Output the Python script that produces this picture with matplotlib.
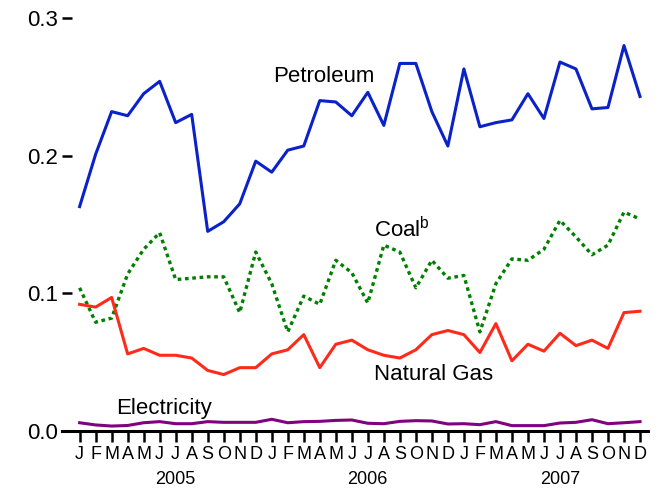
import numpy as np
import matplotlib
matplotlib.use("Agg")
import matplotlib.pyplot as plt

plt.rcParams['font.family'] = ['Liberation Sans', 'DejaVu Sans']
plt.rcParams['mathtext.fontset'] = 'custom'
plt.rcParams['mathtext.rm'] = 'Liberation Sans'

# monthly values, Jan 2005 .. Dec 2007
months = list("JFMAMJJASOND") * 3
years = ["2005", "2006", "2007"]

petroleum = [0.163, 0.201, 0.232, 0.229, 0.245, 0.254, 0.224, 0.230, 0.145, 0.152, 0.165, 0.196,
             0.188, 0.204, 0.207, 0.240, 0.239, 0.229, 0.246, 0.222, 0.267, 0.267, 0.232, 0.207,
             0.263, 0.221, 0.224, 0.226, 0.245, 0.227, 0.268, 0.263, 0.234, 0.235, 0.280, 0.243]
coal = [0.104, 0.079, 0.082, 0.114, 0.132, 0.144, 0.110, 0.111, 0.112, 0.112, 0.086, 0.130,
        0.107, 0.072, 0.098, 0.092, 0.124, 0.115, 0.093, 0.135, 0.130, 0.104, 0.124, 0.111,
        0.113, 0.072, 0.107, 0.125, 0.124, 0.132, 0.153, 0.141, 0.128, 0.135, 0.159, 0.154]
natural_gas = [0.092, 0.090, 0.097, 0.056, 0.060, 0.055, 0.055, 0.053, 0.044, 0.041, 0.046, 0.046,
               0.056, 0.059, 0.070, 0.046, 0.063, 0.066, 0.059, 0.055, 0.053, 0.059, 0.070, 0.073,
               0.070, 0.057, 0.078, 0.051, 0.063, 0.058, 0.071, 0.062, 0.066, 0.060, 0.086, 0.087]
electricity = [0.0060, 0.0044, 0.0036, 0.0040, 0.0060, 0.0068, 0.0053, 0.0053, 0.0068, 0.0063, 0.0063, 0.0063,
               0.0085, 0.0060, 0.0068, 0.0070, 0.0077, 0.0080, 0.0056, 0.0053, 0.0070, 0.0075, 0.0073, 0.0051,
               0.0053, 0.0046, 0.0068, 0.0039, 0.0039, 0.0039, 0.0058, 0.0063, 0.0082, 0.0053, 0.0060, 0.0068]

x = np.arange(len(months))

fig = plt.figure(figsize=(6.6, 4.91), dpi=100)
ax = fig.add_axes([62 / 660, 60 / 491, 586 / 660, 413 / 491])

ax.plot(x, petroleum, color='#0A22C8', lw=2.2)
ax.plot(x, coal, color='#008000', lw=2.4, dashes=(1.1, 1.1))
ax.plot(x, natural_gas, color='#FF2A1A', lw=2.2)
ax.plot(x, electricity, color='#800080', lw=2.2)

# series labels
ax.text(12.06, 0.2578, "Petroleum", fontsize=16, va='center', ha='left')
ax.text(18.38, 0.146, r"Coal$^{\rm b}$", fontsize=16, va='center', ha='left')
ax.text(18.4, 0.0412, "Natural Gas", fontsize=16, va='center', ha='left')
ax.text(2.29, 0.0165, "Electricity", fontsize=16, va='center', ha='left')

ax.set_xlim(-1.1, 35.5)
ax.set_ylim(0, 0.3)

for s in ['top', 'right', 'left']:
    ax.spines[s].set_visible(False)
ax.spines['bottom'].set_linewidth(2.2)

ax.set_yticks([0.0, 0.1, 0.2, 0.3])
ax.set_yticklabels(["0.0", "0.1", "0.2", "0.3"], fontsize=16)
ax.tick_params(axis='y', direction='in', length=7.5, width=1.8, pad=3)

ax.set_xticks(x)
ax.set_xticklabels(months, fontsize=13)
ax.tick_params(axis='x', direction='out', length=8, width=1.8, pad=3)

# year labels under the July ticks
for i, yr in enumerate(years):
    ax.annotate(yr, xy=(6 + 12 * i, 0), xycoords=('data', 'axes fraction'),
                xytext=(0, -49), textcoords='offset pixels',
                ha='center', va='center', fontsize=13)

fig.savefig("out.png", dpi=100)
